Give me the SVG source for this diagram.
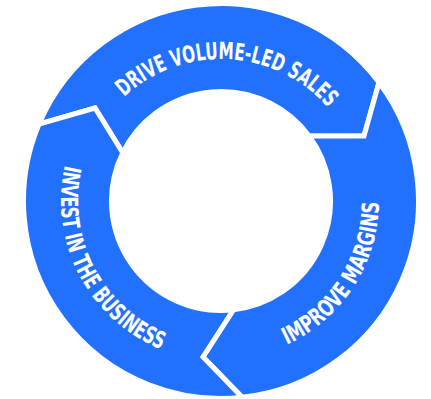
<svg xmlns="http://www.w3.org/2000/svg" width="431" height="399" viewBox="0 0 431 399">
  <style>
    .seg { fill: #2270fe; stroke: #ffffff; stroke-width: 5; stroke-linejoin: miter; stroke-miterlimit: 10; }
    .lbl { fill: #ffffff; font-family: "DejaVu Sans Condensed", "DejaVu Sans", "Liberation Sans", sans-serif; font-stretch: condensed; font-weight: bold; font-size: 23.5px; }
  </style>
  <defs>
    <!-- baselines for the curved labels, all centred on (221,201) -->
    <path id="arc-top" d="M124.16,97.14 A142,142 0 0 1 328.17,107.83"/>
    <path id="arc-left" d="M65.10,165.00 A160,160 0 0 0 161.06,349.35"/>
    <path id="arc-right" d="M286.79,344.65 A158,158 0 0 0 378.99,202.38"/>
  </defs>

  <!-- ring split into three arrow-shaped stages; the white stroke forms the gaps -->
  <g id="stage-drive-sales">
    <path class="seg" d="M39.07,124.14 A197.5,197.5 0 0 1 378.98,82.48 L364,136 L309.12,136 A109.5,109.5 0 0 0 122.70,152.75 L95,108 Z"/>
    <text class="lbl"><textPath href="#arc-top" textLength="228" lengthAdjust="spacingAndGlyphs">DRIVE VOLUME-LED SALES</textPath></text>
  </g>

  <g id="stage-improve-margins">
    <path class="seg" d="M378.98,82.48 A197.5,197.5 0 0 1 242.20,397.36 L203,357 L233.34,309.81 A109.5,109.5 0 0 0 309.12,136 L364,136 Z"/>
    <text class="lbl"><textPath href="#arc-right" textLength="179" lengthAdjust="spacingAndGlyphs">IMPROVE MARGINS</textPath></text>
  </g>

  <g id="stage-invest">
    <path class="seg" d="M242.20,397.36 A197.5,197.5 0 0 1 39.07,124.14 L95,108 L122.70,152.75 A109.5,109.5 0 0 0 233.34,309.81 L203,357 Z"/>
    <text class="lbl"><textPath href="#arc-left" textLength="226" lengthAdjust="spacingAndGlyphs">INVEST IN THE BUSINESS</textPath></text>
  </g>
</svg>
